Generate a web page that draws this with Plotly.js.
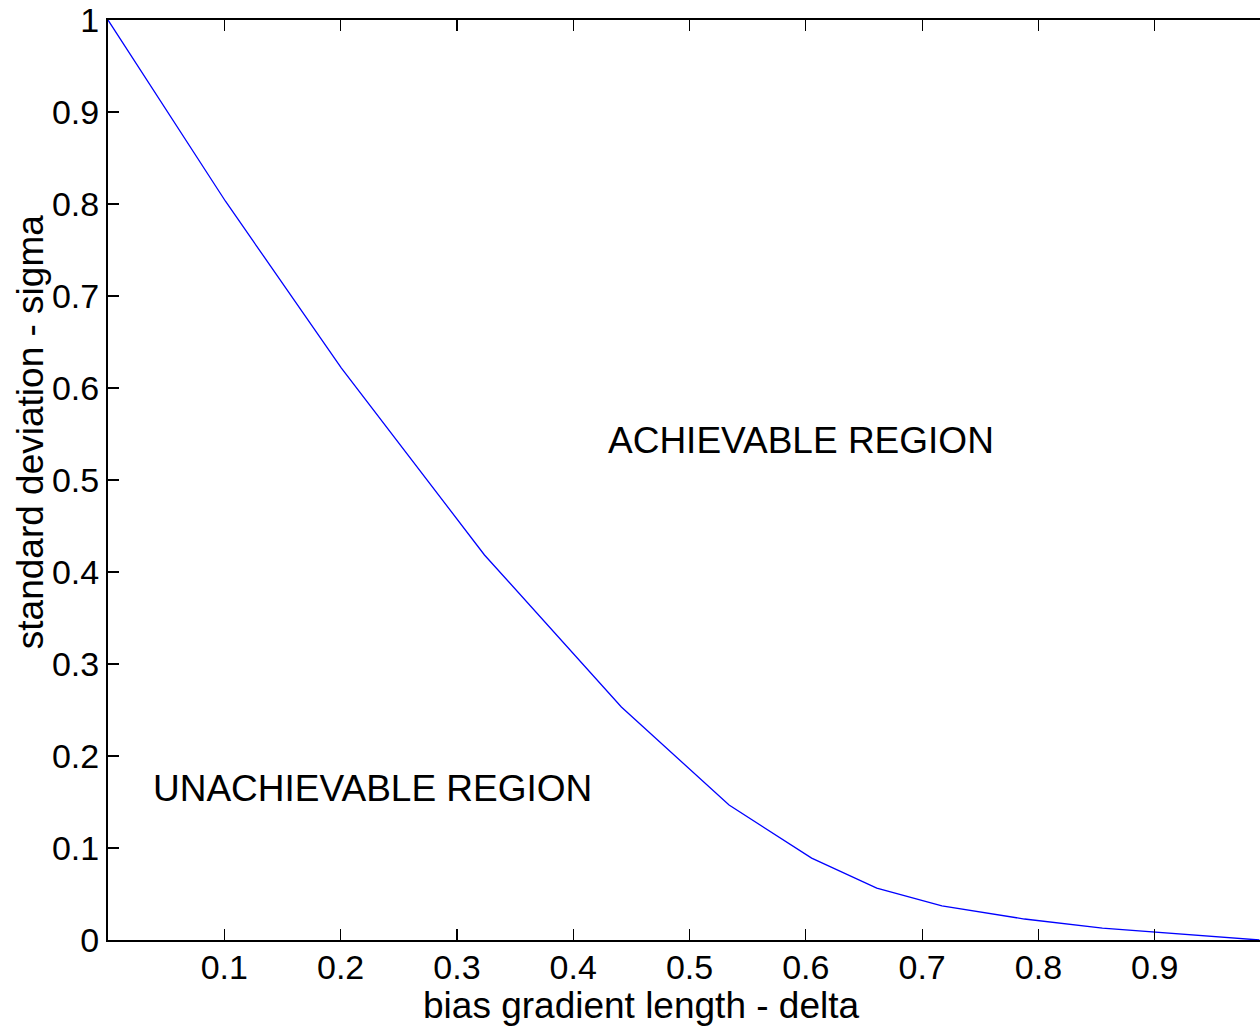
<!DOCTYPE html>
<html>
<head>
<meta charset="utf-8">
<script src="https://cdn.plot.ly/plotly-3.0.1.min.js"></script>
<style>html,body{margin:0;padding:0;background:#fff;}#chart{width:1260px;height:1031px;}</style>
</head>
<body>
<div id="chart"></div>
<script>
// curve vertices
const delta = [0, 0.101, 0.2007, 0.3237, 0.4414, 0.534, 0.605, 0.661, 0.717, 0.788, 0.855, 0.99];
const sigma = [1, 0.803, 0.6217, 0.4185, 0.2533, 0.1467, 0.089, 0.0565, 0.037, 0.0228, 0.013, 0];

const xTickVals = [0.1, 0.2, 0.3, 0.4, 0.5, 0.6, 0.7, 0.8, 0.9];
const xTickText = ["0.1", "0.2", "0.3", "0.4", "0.5", "0.6", "0.7", "0.8", "0.9"];
const yTickVals = [0, 0.1, 0.2, 0.3, 0.4, 0.5, 0.6, 0.7, 0.8, 0.9, 1];
const yTickText = ["0", "0.1", "0.2", "0.3", "0.4", "0.5", "0.6", "0.7", "0.8", "0.9", "1"];

const labels = ["ACHIEVABLE REGION", "UNACHIEVABLE REGION"];
const labelX = [0.4285, 0.0373];
const labelY = [0.5424, 0.165];

const xTitle = "bias gradient length - delta";
const yTitle = "standard deviation - sigma";

const FONT = "Liberation Sans, Arial, Helvetica, sans-serif";
const TXT = 37;
const TICK = 34;

const trace = {
  x: delta, y: sigma, type: "scatter", mode: "lines",
  line: {color: "#0000ff", width: 1.3},
  hoverinfo: "skip", showlegend: false
};

const ann = labels.map((t, i) => ({
  text: t, x: labelX[i], y: labelY[i], xref: "x", yref: "y",
  xanchor: "left", yanchor: "middle", showarrow: false,
  font: {family: FONT, size: TXT, color: "#000"}
}));
ann.push({
  text: xTitle, xref: "paper", yref: "paper", x: 0.4627, y: -0.0717,
  xanchor: "center", yanchor: "middle", showarrow: false,
  font: {family: FONT, size: TXT, color: "#000"}
});
ann.push({
  text: yTitle, xref: "paper", yref: "paper", x: -0.0677, y: 0.552,
  xanchor: "center", yanchor: "middle", showarrow: false, textangle: -90,
  font: {family: FONT, size: TXT, color: "#000"}
});

const layout = {
  width: 1260, height: 1031,
  margin: {l: 108, r: 0, t: 20, b: 91},
  paper_bgcolor: "#fff", plot_bgcolor: "#fff",
  font: {family: FONT, size: TICK, color: "#000"},
  showlegend: false,
  xaxis: {
    range: [0, 0.9905], autorange: false,
    tickvals: xTickVals, ticktext: xTickText,
    ticks: "inside", ticklen: 11, tickwidth: 1.2, tickcolor: "#000",
    showline: true, linewidth: 2, linecolor: "#000", mirror: "ticks",
    showgrid: false, zeroline: false,
    tickfont: {family: FONT, size: TICK, color: "#000"},
    ticklabelstandoff: -4,
    automargin: false
  },
  yaxis: {
    range: [0, 1], autorange: false,
    tickvals: yTickVals, ticktext: yTickText,
    ticks: "inside", ticklen: 11, tickwidth: 1.2, tickcolor: "#000",
    showline: true, linewidth: 2, linecolor: "#000", mirror: false,
    showgrid: false, zeroline: false,
    tickfont: {family: FONT, size: TICK, color: "#000"},
    automargin: false
  },
  annotations: ann
};

Plotly.newPlot("chart", [trace], layout, {displayModeBar: false, staticPlot: true});
</script>
</body>
</html>
